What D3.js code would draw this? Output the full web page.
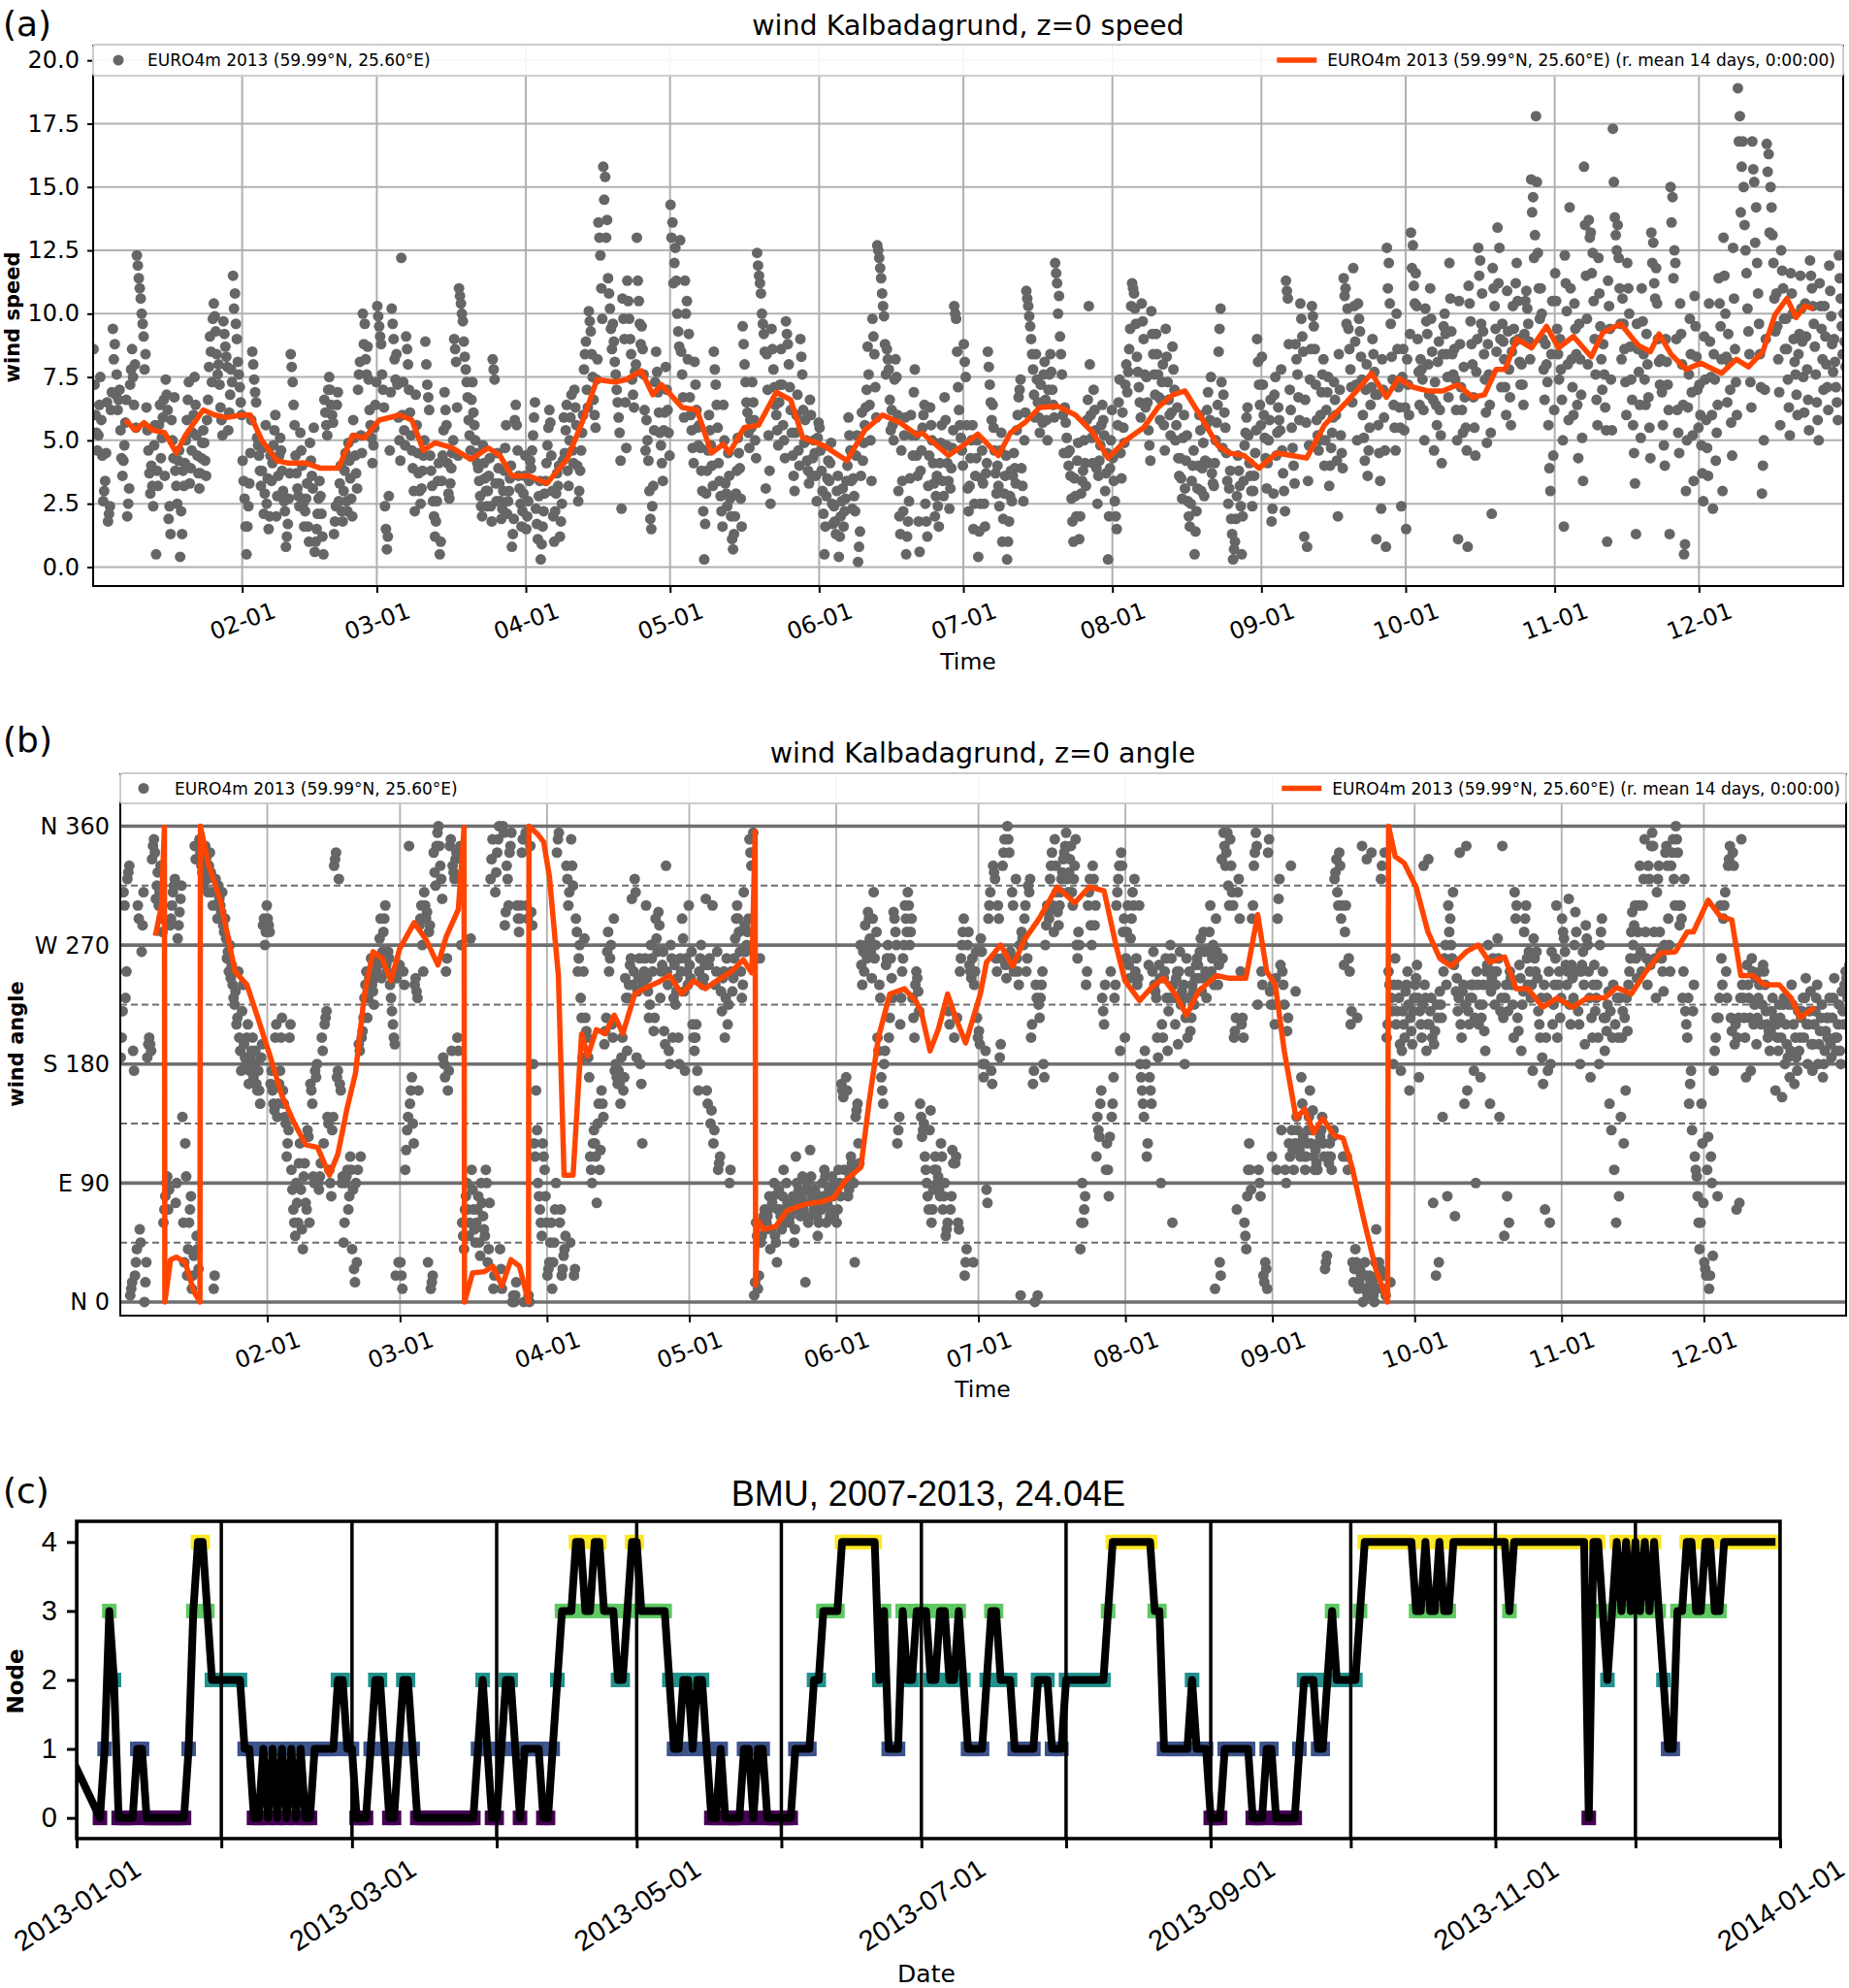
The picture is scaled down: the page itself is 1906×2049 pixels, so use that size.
<!DOCTYPE html>
<html>
<head>
<meta charset="utf-8">
<script src="https://cdn.jsdelivr.net/npm/d3@7"></script>
<style>
body { margin: 0; background: #fff; }
</style>
</head>
<body>
<script>
// wind speed, three samples per day, one list per month
var speedJan = [
8.6,6.0,4.6, 5.2,7.5,4.4, 2.6,3.4,6.5, 1.8,2.4,6.9, 9.4,8.8,7.6,
6.2,7.0,4.3, 3.6,4.8,6.6, 2.0,3.1,7.8, 8.6,6.4,5.5, 12.3,11.4,10.6,
10.0,9.1,8.4, 6.3,4.6,2.9, 4.0,2.4,5.6, 0.5,3.2,6.4, 4.3,5.9,3.6,
7.4,6.2,2.4, 1.3,5.0,6.7, 3.8,2.5,4.6, 0.4,1.3,3.2, 4.1,5.8,7.3,
3.3,4.6,6.0, 7.5,5.2,3.7, 3.1,4.3,5.4, 4.9,3.6,6.6, 7.9,8.5,9.8,
10.4,9.3,7.6, 8.0,6.3,5.2, 9.7,8.7,7.9, 5.4,6.8,7.3, 11.5,10.8,9.0,
8.1,7.1,6.0];
var speedFeb = [
4.2,2.7,0.5, 1.6,3.3,5.8, 8.5,7.4,6.5, 5.1,4.4,3.2, 3.8,2.1,5.6,
2.5,1.5,4.4, 3.4,4.8,6.0, 2.0,3.6,5.1, 4.6,3.0,2.2, 0.8,1.7,3.7,
8.4,7.3,5.6, 4.4,3.1,2.4, 5.3,4.0,1.6, 2.2,3.3,1.0, 4.9,3.6,5.5,
0.6,1.5,2.7, 3.4,2.1,0.5, 6.6,5.6,7.0, 7.5,6.4,5.7, 1.3,2.4,6.9,
2.6,4.0,1.8, 3.0,4.5,2.2, 4.9,3.5,2.0, 5.8,4.4,3.1, 7.0,8.1,4.5,
10.0,9.6,7.6, 8.7,6.2,5.1, 4.1,5.5,7.3];
var speedMar = [
10.3,9.5,8.8, 7.6,6.3,1.5, 0.7,2.8,6.9, 10.2,9.0,7.4, 8.4,5.9,4.2,
12.2,7.3,4.8, 9.1,8.0,6.1, 5.2,3.9,2.2, 6.8,4.5,3.0, 2.5,3.8,5.0,
8.9,7.2,6.2, 4.4,3.2,2.0, 1.2,2.6,4.1, 0.5,3.4,5.4, 6.9,5.6,2.9,
2.7,3.9,5.0, 9.0,8.1,4.4, 11.0,10.4,9.7, 8.9,7.8,6.7, 5.8,4.6,7.3,
6.1,5.0,4.1, 3.9,2.8,2.0, 4.8,3.5,2.4, 3.0,4.3,1.8, 8.2,7.4,2.6,
4.5,3.3,1.9, 2.3,3.8,5.6, 2.1,3.0,4.0, 0.8,1.9,6.4, 5.6,3.6,2.5,
1.6,2.9,4.4];
var speedApr = [
1.5,2.6,4.2, 3.9,5.2,6.5, 2.3,1.1,3.4, 0.3,1.6,2.9, 3.4,4.8,6.2,
5.7,3.0,1.0, 2.2,3.7,4.0, 1.2,2.5,5.9, 4.5,6.4,3.2, 5.0,6.8,4.1,
7.0,5.6,2.6, 3.0,4.6,6.0, 7.8,8.9,6.3, 10.1,9.3,7.5, 6.6,5.5,8.2,
13.6,12.3,9.8, 15.8,15.4,13.7, 11.4,10.2,8.6, 9.6,8.1,7.0, 6.5,5.3,2.3,
10.6,9.0,4.7, 11.3,9.8,8.4, 7.4,6.3,8.0, 13.0,10.5,8.8, 9.5,7.6,4.6,
5.8,4.2,1.9, 1.5,3.2,7.3, 8.5,6.9,5.3, 4.8,3.4,6.1, 7.9,6.2,4.4];
var speedMay = [
14.3,13.6,12.0, 12.6,10.0,8.7, 12.9,7.6,5.9, 11.3,10.5,9.2, 6.7,5.4,4.1,
8.1,6.2,4.8, 5.6,3.8,2.2, 0.3,2.9,4.6, 6.0,4.8,3.2, 8.5,7.2,5.5,
4.1,2.8,1.6, 6.4,3.3,2.4, 4.5,2.7,1.1, 0.7,2.0,3.8, 5.1,3.9,1.6,
9.5,8.0,6.5, 6.1,4.7,5.5, 7.3,5.8,4.3, 12.4,11.5,10.8, 10.0,9.2,3.1,
8.4,5.2,2.5, 9.4,7.8,6.4, 6.0,4.8,7.2, 8.6,5.6,4.3, 9.7,8.8,7.1,
6.2,4.4,3.0, 5.3,6.8,4.0, 9.0,7.6,4.9, 5.8,4.2,3.3, 6.6,3.6,5.0,
4.5,2.6,5.7];
var speedJun = [
5.5,3.8,2.1, 0.5,2.8,4.2, 3.4,4.9,1.7, 2.4,1.3,3.6, 0.4,2.0,3.1,
1.6,2.7,4.0, 5.9,4.6,2.3, 3.5,2.2,5.2, 0.2,1.4,6.1, 4.2,5.6,7.0,
8.7,6.4,3.4, 9.8,8.4,5.9, 12.7,12.2,11.4, 10.8,9.9,7.6, 8.6,7.8,5.4,
6.2,5.0,8.2, 7.5,3.0,1.3, 4.6,2.2,5.9, 0.5,1.8,3.5, 6.0,4.4,7.8,
5.2,3.6,0.6, 3.8,5.5,6.4, 2.5,1.2,4.4, 6.3,5.0,3.3, 2.0,3.6,1.6,
4.1,5.6,2.8, 6.7,4.8,3.4, 2.3,3.9,5.4, 10.3,9.8,7.1, 6.2,5.1,4.0];
var speedJul = [
8.8,7.5,3.1, 2.2,4.3,5.6, 1.5,3.6,5.0, 0.4,2.5,4.6, 3.3,1.6,4.1,
8.5,7.2,5.8, 6.4,4.6,2.9, 4.0,2.4,5.3, 1.0,2.9,4.4, 0.3,1.8,3.8,
2.6,4.5,3.3, 5.4,6.7,7.4, 3.9,2.6,6.1, 10.9,10.3,9.5, 9.0,7.8,5.9,
8.4,6.5,5.3, 7.2,5.7,8.1, 6.6,5.0,7.6, 8.4,7.0,5.9, 12.0,11.2,10.7,
9.1,7.6,4.5, 6.3,5.1,4.0, 4.6,2.7,1.0, 3.5,2.0,4.9, 1.1,2.9,3.8,
5.0,3.2,6.6, 10.3,6.0,4.1, 7.0,5.4,2.5, 3.6,4.8,6.4, 5.8,3.0,4.5,
0.3,3.9,6.2];
var speedAug = [
4.3,2.6,1.5, 5.6,7.4,3.5, 6.1,4.9,8.0, 6.9,8.6,10.3, 11.2,10.8,9.6,
8.3,7.1,5.9, 10.4,9.0,6.3, 7.5,5.4,4.2, 10.1,8.4,6.8, 9.2,7.6,5.8,
6.6,8.0,4.6, 9.4,7.3,6.0, 5.2,8.7,7.0, 5.0,6.3,3.6, 4.3,2.7,6.0,
3.1,5.2,2.0, 1.6,3.4,4.6, 0.5,2.2,4.0, 6.0,3.0,4.9, 2.8,5.6,6.9,
4.1,7.5,3.3, 3.2,5.0,6.4, 8.5,10.2,4.7, 6.8,5.5,3.4, 2.5,3.8,1.3,
0.3,1.0,2.8, 4.4,3.2,0.5, 2.0,4.8,5.9, 6.3,4.1,3.0, 2.4,3.6,5.4,
9.0,7.2,5.6];
var speedSep = [
8.3,6.0,4.3, 3.1,5.0,6.6, 1.8,2.9,7.5, 4.4,6.3,5.4, 7.8,3.7,2.2,
11.3,10.6,7.0, 6.2,4.7,3.3, 8.8,7.6,5.8, 10.4,9.1,1.2, 6.6,0.8,4.8,
7.4,10.3,9.5, 8.6,5.8,4.6, 5.0,6.9,8.2, 4.0,6.2,7.5, 3.2,4.7,5.9,
7.3,6.0,2.0, 8.4,5.2,3.9, 11.4,11.0,10.2, 9.4,7.8,6.5, 11.8,8.9,5.0,
10.4,9.3,7.4, 6.0,4.2,8.0, 3.6,5.5,7.1, 9.0,7.7,1.1, 6.8,4.5,2.3,
8.2,5.9,0.8, 12.6,12.0,9.6, 8.3,6.4,4.6, 10.0,7.1,5.5, 2.4,8.6,6.3];
var speedOct = [
1.5,7.2,9.2, 13.2,12.7,10.4, 11.6,9.0,6.4, 8.2,7.4,5.0, 10.2,9.2,6.8,
11.0,8.5,4.6, 7.3,5.6,8.9, 6.2,4.1,9.5, 10.0,8.4,6.7, 12.0,9.3,7.6,
8.6,6.2,1.1, 10.5,7.1,5.3, 7.9,5.5,0.8, 11.1,9.7,8.0, 6.7,4.4,9.0,
12.6,12.1,10.8, 9.3,7.4,4.9, 8.8,6.4,2.1, 11.8,10.3,8.5, 13.4,12.6,7.1,
9.6,8.2,6.0, 10.9,7.8,5.6, 8.5,9.4,11.2, 12.0,9.0,7.2, 8.0,6.4,10.5,
10.9,9.6,8.2, 15.3,14.6,13.1, 17.8,12.4,9.8, 11.0,9.0,6.6, 8.8,7.3,3.9,
3.0,10.5,6.2];
var speedNov = [
11.6,9.4,7.4, 9.0,6.6,1.6, 12.3,10.1,5.8, 14.2,8.2,6.0, 10.4,8.4,4.3,
9.6,6.8,3.4, 15.8,11.5,8.0, 13.7,13.2,12.4, 10.5,7.6,5.6, 12.2,9.5,7.0,
8.8,6.3,1.0, 11.3,9.4,5.4, 17.3,13.8,12.5, 13.5,11.0,8.2, 10.6,8.6,6.0,
12.0,10.0,7.4, 6.6,4.5,1.3, 9.6,7.7,5.1, 11.0,8.4,6.4, 9.2,6.7,4.3,
13.2,12.8,10.6, 11.8,9.0,7.2, 8.2,5.6,4.0, 9.0,7.2,1.3, 15.0,14.6,12.5,
12.0,6.2,4.5, 10.4,8.0,0.5, 0.9,5.0,7.6, 9.8,6.9,3.4, 10.7,8.3,5.5];
var speedDec = [
7.2,4.8,2.6, 9.1,5.8,3.6, 10.4,7.5,2.3, 8.4,4.2,6.4, 11.4,9.5,3.0,
13.0,10.0,6.5, 9.2,7.0,4.4, 12.6,8.6,6.0, 18.9,17.8,15.8, 16.8,13.5,11.6,
10.2,8.4,6.3, 16.8,15.2,14.2, 12.0,9.6,7.1, 2.9,5.0,9.0, 16.7,16.3,15.0,
14.2,12.0,9.3, 10.8,8.2,5.6, 12.5,11.0,8.6, 9.8,7.4,5.2, 11.6,10.0,8.1,
7.6,6.0,9.2, 11.5,8.9,6.1, 10.4,7.8,5.4, 12.1,11.0,9.6, 8.7,6.5,5.0,
11.2,9.4,7.0, 10.3,8.0,6.2, 11.9,9.9,7.7, 9.0,7.1,5.8, 12.3,10.6,8.4,
10.0,7.9,6.0];

// wind speed, two more samples per day
var speedJanB = [
7.2,5.3, 6.4,5.8, 3.0,4.5, 2.1,6.2, 8.2,6.8, 6.6,5.4, 4.2,5.7, 2.5,7.2, 7.5,8.0, 11.9,11.0,
9.6,7.8, 5.4,3.7, 3.2,4.8, 3.8,5.6, 5.1,6.6, 6.8,1.9, 5.8,4.3, 3.2,4.2, 2.2,3.8, 5.0,6.6,
3.9,5.3, 6.4,4.4, 3.7,4.9, 4.2,5.8, 9.1,7.3, 9.9,8.4, 7.2,5.8, 9.2,8.3, 6.1,7.8, 10.2,9.6,
7.6,6.5];
var speedFebB = [
3.4,1.6, 2.4,4.5, 8.0,6.9, 4.8,3.8, 4.7,2.9, 3.5,2.0, 4.1,5.4, 2.8,4.4, 3.8,2.6, 1.2,2.7,
7.9,6.4, 3.7,2.8, 4.6,2.5, 2.7,1.6, 4.2,3.1, 1.0,2.1, 2.8,1.2, 6.1,5.2, 7.0,6.0, 1.8,6.4,
3.3,2.2, 3.8,2.6, 4.2,2.7, 5.1,3.7, 7.6,5.2, 8.8,8.2, 7.4,5.6, 4.8,6.4];
var speedMarB = [
9.9,9.1, 7.0,2.4, 1.2,4.6, 9.6,8.2, 7.2,5.0, 6.0,5.4, 8.6,7.0, 4.6,3.0, 5.6,3.7, 3.1,4.4,
8.0,6.7, 3.8,2.6, 1.8,3.4, 1.0,4.4, 6.2,4.1, 3.3,4.5, 8.6,6.3, 10.7,10.0, 8.3,7.3, 5.2,6.6,
5.6,4.5, 3.4,2.4, 4.1,3.0, 3.6,2.4, 7.8,3.3, 3.9,2.6, 3.0,4.7, 2.6,3.5, 1.3,5.8, 4.6,3.1,
2.2,3.6];
var speedAprB = [
2.0,3.4, 4.6,5.9, 1.7,2.8, 0.9,2.2, 4.1,5.5, 4.4,2.0, 2.9,3.2, 1.8,4.2, 5.4,3.8, 5.9,4.6,
6.3,4.0, 3.8,5.3, 8.4,7.0, 9.7,8.4, 6.0,7.4, 13.0,11.0, 14.5,13.0, 10.8,9.4, 8.9,7.6, 5.9,4.2,
9.8,6.5, 10.5,9.0, 6.8,7.7, 11.3,9.6, 8.6,6.2, 5.0,3.0, 2.4,5.4, 7.7,6.1, 4.1,5.4, 7.0,5.3];
var speedMayB = [
13.0,11.2, 11.3,9.3, 8.5,6.7, 10.0,8.2, 6.0,4.7, 7.2,5.5, 4.7,3.0, 1.7,3.8, 5.4,4.0, 7.8,6.4,
3.4,2.2, 5.0,2.9, 3.6,2.0, 1.3,2.9, 4.5,2.7, 8.8,7.3, 5.3,5.8, 6.5,5.0, 11.9,11.2, 9.6,8.5,
7.0,3.8, 8.6,7.1, 5.4,6.5, 7.2,5.0, 9.2,8.0, 5.3,3.6, 6.0,4.6, 8.3,6.2, 5.0,3.8, 6.0,4.3,
3.6,5.1];
var speedJunB = [
4.6,3.0, 1.6,3.5, 4.1,2.5, 1.8,3.0, 1.2,2.6, 2.2,3.4, 5.2,3.4, 2.8,4.4, 0.8,3.6, 4.9,6.3,
7.6,5.0, 9.1,7.1, 12.5,11.8, 10.3,8.8, 8.2,6.6, 5.6,7.4, 6.0,2.0, 3.4,5.2, 1.2,2.6, 5.2,6.9,
4.4,1.8, 4.6,6.0, 1.8,3.2, 5.6,4.1, 2.8,2.4, 4.9,3.4, 5.8,4.1, 3.1,4.7, 10.0,8.5, 5.6,4.6];
var speedJulB = [
8.1,5.6, 3.2,5.0, 2.5,4.3, 1.4,3.5, 2.5,3.7, 7.9,6.5, 5.5,3.7, 3.2,4.6, 1.9,3.6, 1.0,2.8,
3.6,3.9, 6.0,7.0, 3.2,5.0, 10.6,9.9, 8.4,6.8, 7.4,5.9, 6.5,7.6, 5.8,7.0, 7.7,6.4, 11.6,10.0,
8.4,6.0, 5.7,4.5, 3.6,1.8, 2.8,4.2, 2.0,3.4, 4.1,5.8, 8.0,5.1, 6.2,3.9, 4.2,5.6, 5.2,3.7,
2.0,5.0];
var speedAugB = [
3.4,2.0, 6.5,4.5, 5.5,7.2, 7.7,9.4, 11.0,10.2, 7.7,6.5, 9.7,7.6, 6.5,4.8, 9.2,7.6, 8.4,6.7,
7.3,5.6, 8.3,6.6, 6.1,7.8, 5.6,4.3, 3.5,5.1, 4.2,2.6, 2.5,4.0, 1.4,3.1, 5.4,3.9, 4.2,6.2,
5.8,3.7, 4.1,5.7, 9.4,7.3, 6.1,4.5, 3.1,1.9, 0.7,1.9, 3.8,2.4, 3.4,5.3, 5.2,3.6, 3.0,4.5,
8.1,6.4];
var speedSepB = [
7.2,5.1, 4.1,5.8, 2.3,6.8, 5.3,5.8, 4.6,3.0, 10.9,8.8, 5.5,4.0, 8.2,6.7, 9.8,8.5, 5.7,3.4,
8.6,9.9, 7.2,5.2, 6.0,7.6, 5.0,6.9, 4.0,5.3, 6.6,4.2, 7.0,4.5, 10.7,9.6, 8.6,7.1, 10.3,7.2,
9.8,8.3, 5.1,7.0, 4.6,6.4, 8.4,6.8, 5.6,3.4, 7.0,4.6, 11.0,10.4, 7.4,5.5, 8.6,6.3, 7.5,5.4];
var speedOctB = [
8.2,6.0, 11.8,11.1, 10.3,7.7, 7.8,6.2, 9.7,8.0, 9.8,6.6, 6.4,8.1, 5.2,8.4, 9.2,7.5, 10.6,8.4,
7.4,5.0, 8.8,6.2, 6.7,4.6, 10.4,8.8, 5.5,7.7, 11.5,9.6, 8.4,6.1, 7.6,5.3, 11.0,9.4, 11.2,9.0,
8.9,7.1, 9.3,6.7, 10.3,8.9, 10.5,8.1, 7.2,9.2, 10.2,8.9, 14.0,12.2, 15.2,11.0, 10.0,7.8, 8.0,5.6,
8.4,4.4];
var speedNovB = [
10.5,8.4, 7.8,5.0, 11.2,8.0, 11.0,7.1, 9.4,6.4, 8.2,5.1, 13.5,9.8, 13.0,11.6, 9.0,6.6, 10.8,8.2,
7.6,5.4, 10.3,7.4, 15.2,13.1, 12.2,9.6, 9.6,7.3, 11.0,8.7, 5.6,3.3, 8.6,6.4, 9.7,7.4, 8.0,5.5,
12.0,11.2, 10.4,8.1, 6.9,4.8, 8.1,6.2, 13.6,11.4, 9.0,5.3, 9.2,6.4, 3.0,6.3, 8.4,5.2, 9.5,7.0];
var speedDecB = [
6.0,3.7, 7.4,4.7, 8.9,6.0, 7.4,5.3, 10.4,8.2, 11.5,8.3, 8.1,5.7, 10.6,7.3, 16.8,14.0, 15.0,12.5,
9.3,7.3, 15.7,12.8, 10.8,8.4, 4.0,7.0, 15.6,13.2, 13.1,10.6, 9.5,6.9, 11.7,9.8, 8.6,6.3, 10.8,9.0,
6.8,8.4, 10.2,7.5, 9.1,6.6, 11.5,10.3, 7.6,5.8, 10.3,8.2, 9.1,7.1, 10.9,8.8, 8.1,6.5, 11.4,9.5,
8.9,7.0];

// wind angle (degrees), three samples per day
var angleJan = [
185,220,300, 230,320,330, 5,15,175, 20,40,290, 55,265,310,
0,30,195, 200,190,345, 350,305,325, 300,330,280, 60,80,95,
70,285,300, 310,320,90, 275,295,315, 140,30,95, 20,60,80,
10,35,335, 50,25,340, 330,315,345, 335,310,340, 325,300,20,
320,290,305, 300,310,280, 290,260,250, 270,255,230, 225,210,250,
200,175,240, 195,180,210, 165,185,200, 170,190,160, 175,150,195,
285,270,300];
var angleFeb = [
290,280,175, 160,145,210, 140,165,200, 215,150,135, 110,130,210,
100,70,50, 90,60,120, 85,40,105, 75,130,60, 165,150,90,
175,180,85, 95,200,120, 210,220,135, 100,80,140, 330,340,175,
320,160,95, 45,90,100, 70,110,40, 85,15,30, 100,190,200,
205,230,250, 215,245,260, 240,225,255, 250,260,290, 245,280,300,
255,265,240, 230,210,195, 20,250,255];
var angleMar = [
30,10,240, 100,130,345, 150,170,120, 240,235,160, 285,300,250,
310,290,30, 280,10,20, 340,315,355, 360,330,305, 185,170,260,
160,345,190, 330,320,340, 200,340,270, 60,40,80, 90,50,275,
100,70,45, 60,80,35, 90,65,50, 100,30,75, 320,350,20,
310,340,360, 40,10,355, 285,330,300, 340,355,5, 0,15,290,
280,300,350, 0,355,290, 5,345,285, 180,110,130, 90,70,50,
120,100,60];
var angleApr = [
20,30,60, 10,45,90, 340,355,70, 20,35,50, 330,300,45,
350,315,25, 290,250,270, 230,185,275, 215,200,170, 110,90,130,
120,75,150, 100,160,140, 195,215,280, 250,270,200, 290,180,165,
175,150,200, 160,245,190, 230,255,305, 240,320,185, 235,260,165,
120,250,300, 245,215,270, 260,205,290, 275,295,230, 250,265,195,
330,240,180, 270,200,255, 225,245,180, 260,290,235, 175,250,300];
var angleMay = [
255,265,200, 190,210,160, 250,270,240, 245,305,150, 255,135,300,
120,240,265, 100,110,220, 245,200,260, 210,90,250, 235,260,290,
300,280,250, 230,310,265, 270,290,340, 330,355,15, 60,10,260,
45,60,70, 55,65,80, 40,75,90, 50,30,85, 70,55,100,
60,90,65, 60,75,80, 45,110,70, 85,65,95, 70,15,90,
60,115,80, 75,85,65, 50,80,70, 90,100,60, 75,85,70,
95,65,85];
var angleJun = [
60,100,80, 165,155,90, 170,80,95, 110,100,30, 140,150,105,
270,240,250, 285,260,290, 275,245,310, 260,280,190, 240,170,150,
180,255,270, 200,260,230, 295,280,120, 130,210,250, 260,300,280,
310,270,290, 230,200,250, 245,220,140, 125,135,100, 90,70,145,
60,85,110, 100,95,80, 120,70,90, 50,60,210, 70,115,200,
105,215,55, 250,270,290, 20,40,280, 255,245,30, 240,265,200];
var angleJul = [
205,275,180, 170,190,75, 290,310,165, 330,320,250, 300,185,260,
330,350,245, 360,340,255, 310,250,320, 260,240,5, 280,270,300,
250,315,320, 200,165,0, 240,5,215, 230,250,170, 270,300,290,
320,340,280, 350,310,285, 300,320,335, 340,355,310, 325,345,300,
320,350,260, 280,40,90, 60,80,250, 300,320,270, 330,285,110,
140,125,160, 230,210,100, 120,80,250, 140,170,240, 300,320,190,
340,280,200];
var angleAug = [
260,300,245, 275,310,320, 250,240,300, 180,160,140, 190,110,255,
170,150,265, 240,230,185, 255,90,200, 245,260,190, 220,270,60,
240,210,250, 195,265,235, 230,180,260, 200,250,215, 240,225,255,
260,245,275, 235,280,250, 230,265,300, 250,270,10, 290,240,30,
20,260,345, 330,355,300, 350,310,200, 205,70,320, 290,210,200,
60,40,100, 120,85,300, 330,355,225, 100,80,240, 20,30,10,
340,235,110];
var angleSep = [
240,210,100, 290,320,130, 250,225,90, 205,120,330, 130,100,235,
140,120,110, 170,125,100, 110,130,160, 120,145,100, 115,100,130,
125,140,110, 25,35,105, 120,100,130, 320,335,300, 340,290,110,
255,300,100, 260,210,30, 15,40,215, 10,25,345, 0,30,335,
5,20,340, 15,0,55, 10,30,320, 330,20,5, 200,250,15,
230,180,260, 210,240,195, 175,220,200, 235,250,160, 215,195,230];
var angleOct = [
240,255,170, 220,200,330, 240,190,335, 210,230,75, 195,20,215,
30,225,140, 250,270,80, 300,290,260, 310,65,245, 220,340,200,
235,150,345, 160,210,240, 230,175,90, 250,210,170, 215,240,190,
250,270,150, 235,260,225, 240,275,140, 220,345,50, 230,80,60,
250,240,200, 310,300,205, 255,190,235, 280,300,240, 265,230,175,
275,250,245, 220,200,185, 165,70,230, 175,60,265, 210,240,300,
200,250,230];
var angleNov = [
290,275,255, 240,305,210, 255,230,295, 280,220,180, 250,265,195,
285,270,230, 170,200,255, 220,240,180, 270,290,215, 190,205,235,
150,130,240, 100,60,200, 80,140,220, 120,160,205, 240,260,295,
270,300,245, 280,330,250, 300,350,260, 240,320,345, 355,280,230,
310,330,265, 260,235,340, 345,290,250, 330,350,300, 360,340,285,
300,230,320, 220,200,150, 165,130,240, 110,95,60, 40,150,75];
var angleDec = [
30,20,125, 10,110,35, 175,200,80, 215,300,240, 290,310,230,
330,345,205, 340,195,70, 200,75,350, 240,215,170, 255,230,175,
260,210,245, 195,230,250, 210,255,240, 220,200,190, 205,230,215,
160,200,225, 215,155,230, 180,195,225, 170,240,210, 165,185,220,
190,215,230, 200,245,180, 210,235,175, 195,220,240, 180,205,225,
170,190,215, 200,230,185, 215,245,190, 200,225,180, 235,210,250,
245,220,265];

// wind angle, two more samples per day
var angleJanB = [
200,310, 250,325, 10,190, 30,300, 45,285, 15,185, 195,335, 340,315, 310,290, 70,90,
85,290, 315,75, 285,305, 60,120, 40,70, 20,345, 40,350, 325,320, 320,330, 310,10,
300,315, 295,285, 275,265, 245,240, 235,215, 190,220, 185,200, 175,190, 180,165, 160,185,
290,280];
var angleFebB = [
285,165, 150,200, 150,175, 160,140, 120,200, 85,60, 75,105, 55,95, 70,125, 160,95,
170,90, 105,190, 215,140, 90,130, 335,170, 165,90, 60,95, 80,100, 25,90, 195,110,
215,240, 230,250, 235,245, 255,275, 265,290, 250,260, 220,200, 245,30];
var angleMarB = [
20,250, 115,140, 160,135, 245,230, 290,270, 300,295, 285,15, 325,345, 345,320, 180,250,
175,350, 325,335, 190,345, 50,70, 70,60, 85,55, 70,45, 75,55, 90,40, 335,10,
325,350, 25,360, 295,320, 345,0, 5,300, 290,340, 350,300, 0,295, 120,160, 80,60,
110,80];
var angleAprB = [
25,45, 30,70, 350,60, 25,40, 320,310, 330,20, 280,260, 215,250, 205,185, 100,120,
110,135, 115,150, 205,265, 260,210, 175,170, 165,185, 170,230, 240,260, 250,310, 245,180,
240,260, 235,225, 250,215, 265,285, 255,205, 250,190, 260,230, 235,200, 250,275, 260,240];
var angleMayB = [
245,210, 200,175, 260,245, 255,160, 260,145, 130,250, 105,235, 250,230, 225,100, 245,275,
290,265, 240,285, 280,350, 340,5, 50,20, 50,65, 60,70, 55,80, 45,70, 65,80,
70,75, 65,70, 55,90, 75,80, 75,85, 65,95, 70,80, 60,75, 80,95, 80,65,
80,90];
var angleJunB = [
70,90, 160,100, 160,85, 105,90, 145,120, 255,265, 270,295, 265,290, 270,200, 230,160,
190,260, 215,245, 290,270, 140,230, 270,290, 300,280, 215,240, 235,150, 130,110, 80,130,
70,100, 90,85, 110,80, 55,220, 80,105, 110,60, 260,280, 30,270, 250,260, 250,215];
var angleJulB = [
195,265, 180,85, 300,175, 325,260, 290,195, 340,255, 350,265, 300,260, 250,270, 275,290,
260,310, 210,175, 230,225, 240,180, 285,295, 330,300, 330,295, 310,325, 345,320, 335,310,
330,270, 270,60, 70,240, 310,285, 320,300, 130,150, 220,240, 100,125, 150,230, 310,330,
330,290];
var angleAugB = [
280,255, 290,300, 260,245, 170,150, 180,120, 160,250, 235,200, 245,210, 250,230, 230,260,
230,245, 250,225, 240,215, 230,205, 235,245, 255,265, 245,265, 245,280, 260,240, 265,255,
335,355, 340,315, 330,300, 215,310, 250,215, 50,80, 100,290, 340,345, 90,250, 15,25,
350,225];
var angleSepB = [
225,245, 305,255, 240,100, 215,110, 115,120, 130,115, 150,110, 120,140, 130,110, 105,120,
130,120, 30,110, 110,125, 325,310, 330,300, 280,110, 250,220, 25,30, 15,20, 10,20,
10,15, 5,30, 20,25, 10,340, 210,240, 220,240, 220,230, 190,210, 240,225, 205,220];
var angleOctB = [
245,230, 210,225, 230,210, 220,200, 205,225, 235,215, 260,240, 280,270, 255,235, 230,210,
240,225, 220,230, 240,215, 240,225, 225,205, 255,240, 245,250, 250,260, 230,215, 240,220,
245,225, 290,215, 245,225, 290,260, 250,240, 260,265, 210,230, 240,200, 250,180, 225,260,
240,215];
var angleNovB = [
280,265, 250,225, 245,270, 250,210, 255,240, 275,250, 215,240, 230,200, 280,250, 215,225,
220,200, 210,230, 230,200, 215,230, 250,280, 285,260, 300,265, 320,280, 330,255, 345,260,
320,280, 250,270, 330,270, 340,320, 350,300, 290,250, 210,230, 175,220, 100,80, 60,120];
var angleDecB = [
25,100, 20,90, 190,215, 230,260, 300,250, 335,215, 330,210, 215,230, 230,200, 240,215,
250,225, 215,240, 225,250, 210,205, 220,210, 210,190, 200,225, 210,185, 190,225, 200,175,
200,220, 230,210, 220,195, 210,230, 195,215, 180,205, 215,195, 230,200, 210,190, 220,240,
230,255];

// 14-day running means: [day of year, value]
var speedMean = [
[6.7,5.8],[8.8,5.4],[10.6,5.7],[12.4,5.4],[14.9,5.3],[17.3,4.5],[19.2,5.2],[22.9,6.2],[25.3,6.0],[27.8,5.9],
[30.8,6.0],[32.7,6.0],[35.1,5.0],[38.2,4.2],[40.6,4.1],[44.3,4.1],[47.3,3.9],[51,3.9],[54,5.2],[56.5,5.1],
[59.5,5.8],[63.8,6.0],[66.3,5.8],[68.7,4.6],[71.1,4.9],[74.8,4.7],[78.5,4.25],[82.2,4.7],[84.6,4.4],[87.1,3.6],
[90.7,3.6],[94.4,3.3],[98.7,4.3],[101.7,5.7],[104.8,7.4],[108.5,7.3],[110.9,7.4],[114,7.75],[116.4,6.8],[118.2,7.2],
[122.5,6.3],[125.6,6.2],[128.6,4.5],[131.1,4.85],[132.3,4.5],[135.4,5.5],[138.4,5.6],[142.1,6.9],[145.1,6.6],[147.6,5.1],
[151.9,4.8],[156.8,4.2],[160.5,5.4],[164.2,6.0],[167.8,5.7],[171.5,5.2],[172.4,5.3],[177.9,4.4],[181,4.8],[184,5.25],
[188.3,4.4],[190.8,5.3],[193.8,5.7],[196.9,6.3],[200.6,6.35],[204.3,6.0],[208,5.3],[211.1,4.3],[214.8,5.0],[218.5,5.5],
[221.5,6.3],[224.6,6.8],[227.1,6.95],[230.2,6.0],[233.9,4.8],[236.3,4.5],[239.4,4.4],[242.5,3.9],[246.2,4.5],[249.3,4.4],
[252.4,4.3],[256.1,5.6],[260.4,6.45],[262.8,6.95],[265.9,7.65],[269,6.7],[271.5,7.45],[274.5,7.1],[277.6,6.95],[280.7,6.95],
[283.8,7.2],[286.9,6.7],[289.4,6.8],[291.8,7.8],[293.7,7.8],[296.1,9.0],[299.2,8.65],[302.3,9.5],[304.8,8.65],[307.9,9.1],
[311.6,8.3],[314,9.25],[317.7,9.6],[321.4,8.75],[323.9,8.5],[325.7,9.2],[328.2,8.4],[331.3,7.8],[334.4,8.05],[338.7,7.65],
[341.8,8.2],[344.3,7.9],[347.3,8.5],[349.8,9.95],[352.3,10.6],[354.2,9.85],[356,10.3],[357.8,10.2]];

var angleMean = [
[7.4,277],[8.7,300],[9.3,359],[9.4,0],[10.6,32],[11.8,34],[13.7,30],[15.5,8],[16.8,0],[16.9,360],
[18.6,331],[21.1,304],[24.2,250],[26.7,240],[29.2,213],[31.6,186],[34.1,156],[36.6,136],[39.1,119],[41.6,117],
[44.1,96],[45.9,112],[47.8,146],[49.6,173],[51.5,233],[53.3,265],[55.2,260],[57.1,243],[58.9,267],[62,287],
[64.5,274],[67,255],[68.8,277],[71.3,297],[72.5,359],[72.6,0],[74.3,22],[76.8,23],[78.6,27],[80.5,12],
[82.4,32],[84.2,27],[86.1,0],[86.2,360],[88,354],[89.3,348],[90.5,322],[92.4,247],[93.6,96],[95.5,96],
[97.3,203],[98.6,186],[100.4,206],[102.3,203],[104.2,217],[106,203],[108.5,233],[111,238],[113.5,242],[115.9,247],
[118.4,233],[120.9,243],[123.4,237],[125.8,243],[128.9,250],[131.4,259],[133.2,249],[133.9,356],[134,13],[134.4,62],
[135.6,55],[138.2,57],[140.6,69],[144.4,74],[148.1,76],[150.5,79],[153,92],[156.2,102],[158,153],[159.9,200],
[162.3,233],[165.4,237],[167.9,227],[168.9,220],[170.8,190],[172.6,207],[174.5,233],[176.4,213],[178.3,196],[181.4,233],
[182.7,257],[185.7,270],[188.2,254],[190.7,274],[193.8,290],[197.6,314],[201.3,302],[204.4,314],[207.5,311],[210,270],
[211.9,243],[215,228],[217.5,238],[220,245],[222.5,233],[224.9,217],[227.4,235],[231.2,247],[233.7,245],[237.4,245],
[239.9,293],[241.8,250],[243.6,240],[245.5,190],[248,139],[249.8,146],[251.7,128],[253.6,139],[256,126],[257.9,124],
[259.8,102],[262.3,62],[264.8,25],[267.3,0],[267.5,360],[268.9,337],[270.8,332],[273.3,314],[275.8,280],[278.3,260],
[280.7,254],[283.9,265],[286.4,270],[288.8,257],[292,261],[294.4,237],[296.9,237],[300,223],[303.1,230],[306.3,223],
[309.4,230],[313.1,230],[315.6,238],[318.7,233],[321.8,250],[324.9,264],[328,265],[330.5,280],[331.8,280],[334.9,304],
[337.4,292],[339.9,289],[341.8,247],[344.3,247],[346.8,240],[349.9,240],[352.4,230],[354.3,215],[357.4,223]];

// best matching unit per day ("." = no value), one string per month
var bmuJan = ".....01320000110000000001344322";
var bmuFeb = "2222211001010101010011111221";
var bmuMar = "1000122100122100000000000001210";
var bmuApr = "012210111100123334433443332234";
var bmuMay = "4333333211221221001000011011000";
var bmuJun = "000111122333344444444231113223";
var bmuJul = "3322332232111123322211111222111";
var bmuAug = "2222222223444444444331111112111";
var bmuSep = "000111111000110000012221123222";
var bmuOct = "223" + "44444444444" + "334334334" + "44444444";
var bmuNov = "444" + "3" + "4444444444444444" + "0" + "44" + "3234" + "343";
var bmuDec = "434343" + "2113344334433" + "444444444444";
var bmuBefore = [-2, 1];

var speedTicks = [0, 2.5, 5, 7.5, 10, 12.5, 15, 17.5, 20];
var angleTicks = [0, 90, 180, 270, 360];
var angleTickLabels = ["N 0", "E 90", "S 180", "W 270", "N 360"];
var angleDashed = [45, 135, 225, 315];
var nodeTicks = [0, 1, 2, 3, 4];

var seriesLabel = "EURO4m 2013 (59.99°N, 25.60°E)";
var meanLabel = "EURO4m 2013 (59.99°N, 25.60°E) (r. mean 14 days, 0:00:00)";

var width = 1906, height = 2049;
var grey = "#666666", orange = "#ff4500";

function toDate(d) { return new Date(Date.UTC(2013, 0, 1) + d * 864e5); }

// 5 readings per day: 3 from the first list, 2 from the second
function samples(months, extra) {
    let out = [];
    let day = 0;
    months.forEach(function (m, k) {
        let e = extra[k];
        for (let i = 0, j = 0; i + 2 < m.length; i += 3, j += 2) {
            out.push({t: day + 0.1, v: m[i]}, {t: day + 0.5, v: m[i + 1]}, {t: day + 0.9, v: m[i + 2]});
            if (j + 1 < e.length) out.push({t: day + 0.3, v: e[j]}, {t: day + 0.7, v: e[j + 1]});
            day++;
        }
    });
    return out;
}

var speedPts = samples([speedJan, speedFeb, speedMar, speedApr, speedMay, speedJun,
    speedJul, speedAug, speedSep, speedOct, speedNov, speedDec],
    [speedJanB, speedFebB, speedMarB, speedAprB, speedMayB, speedJunB,
    speedJulB, speedAugB, speedSepB, speedOctB, speedNovB, speedDecB]);
var anglePts = samples([angleJan, angleFeb, angleMar, angleApr, angleMay, angleJun,
    angleJul, angleAug, angleSep, angleOct, angleNov, angleDec],
    [angleJanB, angleFebB, angleMarB, angleAprB, angleMayB, angleJunB,
    angleJulB, angleAugB, angleSepB, angleOctB, angleNovB, angleDecB]);

var bmuStr = bmuJan + bmuFeb + bmuMar + bmuApr + bmuMay + bmuJun + bmuJul + bmuAug + bmuSep + bmuOct + bmuNov + bmuDec;
var bmu = [{t: bmuBefore[0], v: bmuBefore[1]}];
for (let i = 0; i < bmuStr.length; i++) {
    if (bmuStr[i] !== ".") bmu.push({t: i, v: +bmuStr[i]});
}

var svg = d3.select("body").append("svg")
    .attr("width", width)
    .attr("height", height)
    .style("font-family", "'DejaVu Sans', sans-serif");

svg.append("rect").attr("width", width).attr("height", height).style("fill", "white");
var defs = svg.append("defs");

function clip(id, x0, y0, x1, y1) {
    defs.append("clipPath").attr("id", id).append("rect")
        .attr("x", x0).attr("y", y0).attr("width", x1 - x0).attr("height", y1 - y0);
}

function label(txt, x, y, size, anchor, family) {
    return svg.append("text")
        .attr("x", x).attr("y", y)
        .attr("text-anchor", anchor || "start")
        .style("font-size", size + "px")
        .style("font-family", family || "'DejaVu Sans', sans-serif")
        .style("fill", "black")
        .text(txt);
}

function ylabel(txt, x, y, size) {
    svg.append("text")
        .attr("transform", "translate(" + x + "," + y + ") rotate(-90)")
        .attr("text-anchor", "middle")
        .style("font-size", size + "px")
        .style("font-weight", "bold")
        .style("fill", "black")
        .text(txt);
}

function legend(x0, x1, y0, y1, markerX, textX, rightEnd) {
    let cy = (y0 + y1) / 2;
    svg.append("rect")
        .attr("x", x0).attr("y", y0).attr("width", x1 - x0).attr("height", y1 - y0)
        .attr("rx", 3)
        .style("fill", "white").style("fill-opacity", 0.9)
        .style("stroke", "#cccccc").style("stroke-width", 2);
    svg.append("circle").attr("cx", markerX).attr("cy", cy).attr("r", 5.5).style("fill", grey);
    label(seriesLabel, textX, cy + 6, 17);
    let t = label(meanLabel, rightEnd, cy + 6, 17, "end");
    let start = rightEnd - t.node().getComputedTextLength();
    svg.append("line")
        .attr("x1", start - 52).attr("x2", start - 11)
        .attr("y1", cy).attr("y2", cy)
        .style("stroke", orange).style("stroke-width", 5.5);
}

function spines(x0, x1, y0, y1, w) {
    svg.append("path")
        .attr("d", "M" + x0 + "," + y0 + "V" + y1 + "H" + x1 + "V" + y0)
        .style("fill", "none").style("stroke", "black").style("stroke-width", w);
}

function xAxisMonths(x, yPos, rot, off) {
    let months = d3.utcMonth.range(toDate(31), toDate(364));
    svg.append("g")
        .attr("transform", "translate(0," + yPos + ")")
        .call(d3.axisBottom(x).tickValues(months).tickFormat(d3.utcFormat("%m-%d")).tickSize(7))
        .call(function (g) {
            g.select(".domain").remove();
            g.selectAll("line").style("stroke-width", 2);
            g.selectAll("text")
                .attr("y", 0).attr("dy", "0.35em")
                .attr("transform", "translate(0," + off + ") rotate(" + rot + ")")
                .style("font-size", "24px")
                .style("font-family", "'DejaVu Sans', sans-serif");
        });
    return months;
}

// ---------------- (a) wind speed ----------------
var xa = d3.scaleUtc().domain([toDate(0), toDate(364)]).range([96, 1900]);
var ya = d3.scaleLinear().domain([-0.75, 20.62]).range([604, 46]);
clip("clipA", 96, 46, 1900, 604);

var monthsA = d3.utcMonth.range(toDate(31), toDate(364));
svg.append("g").selectAll("line").data(monthsA).enter().append("line")
    .attr("x1", function (d) { return xa(d); }).attr("x2", function (d) { return xa(d); })
    .attr("y1", 46).attr("y2", 604)
    .style("stroke", "#b0b0b0").style("stroke-width", 2);
svg.append("g").selectAll("line").data(speedTicks).enter().append("line")
    .attr("x1", 96).attr("x2", 1900)
    .attr("y1", function (d) { return ya(d); }).attr("y2", function (d) { return ya(d); })
    .style("stroke", "#b0b0b0").style("stroke-width", 2);

svg.append("g").attr("clip-path", "url(#clipA)")
    .selectAll("circle").data(speedPts).enter().append("circle")
    .attr("cx", function (d) { return xa(toDate(d.t)); })
    .attr("cy", function (d) { return ya(d.v); })
    .attr("r", 5.5)
    .style("fill", grey);

svg.append("path")
    .datum(speedMean)
    .attr("d", d3.line()
        .x(function (d) { return xa(toDate(d[0])); })
        .y(function (d) { return ya(d[1]); }))
    .style("fill", "none").style("stroke", orange).style("stroke-width", 5.5)
    .style("stroke-linejoin", "round");

spines(96, 1900, 46, 604, 2);
xAxisMonths(xa, 604, -20, 36);
svg.append("g")
    .attr("transform", "translate(96,0)")
    .call(d3.axisLeft(ya).tickValues(speedTicks).tickFormat(d3.format(".1f")).tickSize(6).tickPadding(8))
    .call(function (g) {
        g.select(".domain").remove();
        g.selectAll("line").style("stroke-width", 2);
        g.selectAll("text").style("font-size", "24px").style("font-family", "'DejaVu Sans', sans-serif");
    });
legend(96, 1900, 46, 78, 122, 152, 1892);

label("(a)", 3, 37, 36);
label("wind Kalbadagrund, z=0 speed", 998, 36, 28.5, "middle");
label("Time", 998, 690, 23.5, "middle");
ylabel("wind speed", 20, 327, 21);

// ---------------- (b) wind angle ----------------
var xb = d3.scaleUtc().domain([toDate(0), toDate(364)]).range([124, 1903]);
var yb = d3.scaleLinear().domain([-10.3, 400]).range([1356, 797]);
clip("clipB", 124, 797, 1903, 1356);

var monthsB = d3.utcMonth.range(toDate(31), toDate(364));
svg.append("g").selectAll("line").data(monthsB).enter().append("line")
    .attr("x1", function (d) { return xb(d); }).attr("x2", function (d) { return xb(d); })
    .attr("y1", 797).attr("y2", 1356)
    .style("stroke", "#b0b0b0").style("stroke-width", 1.8);
svg.append("g").selectAll("line").data(angleTicks).enter().append("line")
    .attr("x1", 124).attr("x2", 1903)
    .attr("y1", function (d) { return yb(d); }).attr("y2", function (d) { return yb(d); })
    .style("stroke", "#6e6e6e").style("stroke-width", 3.6);
svg.append("g").selectAll("line").data(angleDashed).enter().append("line")
    .attr("x1", 124).attr("x2", 1903)
    .attr("y1", function (d) { return yb(d); }).attr("y2", function (d) { return yb(d); })
    .style("stroke", "#6e6e6e").style("stroke-width", 2)
    .style("stroke-dasharray", "7,4");

svg.append("g").attr("clip-path", "url(#clipB)")
    .selectAll("circle").data(anglePts).enter().append("circle")
    .attr("cx", function (d) { return xb(toDate(d.t)); })
    .attr("cy", function (d) { return yb(d.v); })
    .attr("r", 5.5)
    .style("fill", grey);

svg.append("path")
    .datum(angleMean)
    .attr("d", d3.line()
        .x(function (d) { return xb(toDate(d[0])); })
        .y(function (d) { return yb(d[1]); }))
    .style("fill", "none").style("stroke", orange).style("stroke-width", 5.5)
    .style("stroke-linejoin", "round");

spines(124, 1903, 797, 1356, 2);
xAxisMonths(xb, 1356, -20, 35);
svg.append("g").selectAll("text").data(angleTicks).enter().append("text")
    .attr("x", 113)
    .attr("y", function (d) { return yb(d); })
    .attr("dy", "0.35em")
    .attr("text-anchor", "end")
    .style("font-size", "24px")
    .text(function (d, i) { return angleTickLabels[i]; });
legend(124, 1903, 797, 828, 148, 180, 1897);

label("(b)", 3, 775, 36);
label("wind Kalbadagrund, z=0 angle", 1013, 786, 28.5, "middle");
label("Time", 1013, 1440, 23.5, "middle");
ylabel("wind angle", 24, 1076, 21);

// ---------------- (c) BMU ----------------
var xc = d3.scaleUtc().domain([toDate(0), toDate(365)]).range([79, 1835]);
var yc = d3.scaleLinear().domain([-0.3, 4.3]).range([1895, 1568]);
clip("clipC", 79, 1568, 1835, 1895);

var plotC = svg.append("g").attr("clip-path", "url(#clipC)");
plotC.selectAll("rect").data(bmu).enter().append("rect")
    .attr("x", function (d) { return xc(toDate(d.t)) - 7.5; })
    .attr("y", function (d) { return yc(d.v) - 7.5; })
    .attr("width", 15).attr("height", 15)
    .style("fill", function (d) { return d3.interpolateViridis(d.v / 4); });

var monthsC = d3.utcMonth.range(toDate(0), toDate(366));
plotC.selectAll("line").data(monthsC).enter().append("line")
    .attr("x1", function (d) { return xc(d); }).attr("x2", function (d) { return xc(d); })
    .attr("y1", 1568).attr("y2", 1895)
    .style("stroke", "black").style("stroke-width", 3.5);

plotC.append("path")
    .datum(bmu)
    .attr("d", d3.line()
        .x(function (d) { return xc(toDate(d.t)); })
        .y(function (d) { return yc(d.v); }))
    .style("fill", "none").style("stroke", "black").style("stroke-width", 8)
    .style("stroke-linejoin", "round");

svg.append("rect")
    .attr("x", 79).attr("y", 1568).attr("width", 1835 - 79).attr("height", 1895 - 1568)
    .style("fill", "none").style("stroke", "black").style("stroke-width", 3.5);

var fmtC = d3.utcFormat("%Y-%m-%d");
svg.append("g")
    .attr("transform", "translate(0,1895)")
    .call(d3.axisBottom(xc).tickValues(monthsC)
        .tickFormat(function (d) { return d.getUTCMonth() % 2 === 0 ? fmtC(d) : ""; })
        .tickSize(10))
    .call(function (g) {
        g.select(".domain").remove();
        g.selectAll("line").style("stroke-width", 3);
        g.selectAll("text")
            .attr("y", 0).attr("dy", "0.35em")
            .attr("transform", "translate(0,68) rotate(-33)")
            .style("font-size", "29px")
            .style("font-family", "'Liberation Sans', Arial, sans-serif");
    });
svg.append("g")
    .attr("transform", "translate(79,0)")
    .call(d3.axisLeft(yc).tickValues(nodeTicks).tickFormat(d3.format("d")).tickSize(10).tickPadding(10))
    .call(function (g) {
        g.select(".domain").remove();
        g.selectAll("line").style("stroke-width", 3);
        g.selectAll("text").style("font-size", "29px").style("font-family", "'Liberation Sans', Arial, sans-serif");
    });

label("(c)", 3, 1549, 36);
label("BMU, 2007-2013, 24.04E", 957, 1552, 36, "middle", "'Liberation Sans', Arial, sans-serif");
label("Date", 955, 2043, 25, "middle");
ylabel("Node", 24, 1733, 23);
</script>
</body>
</html>
